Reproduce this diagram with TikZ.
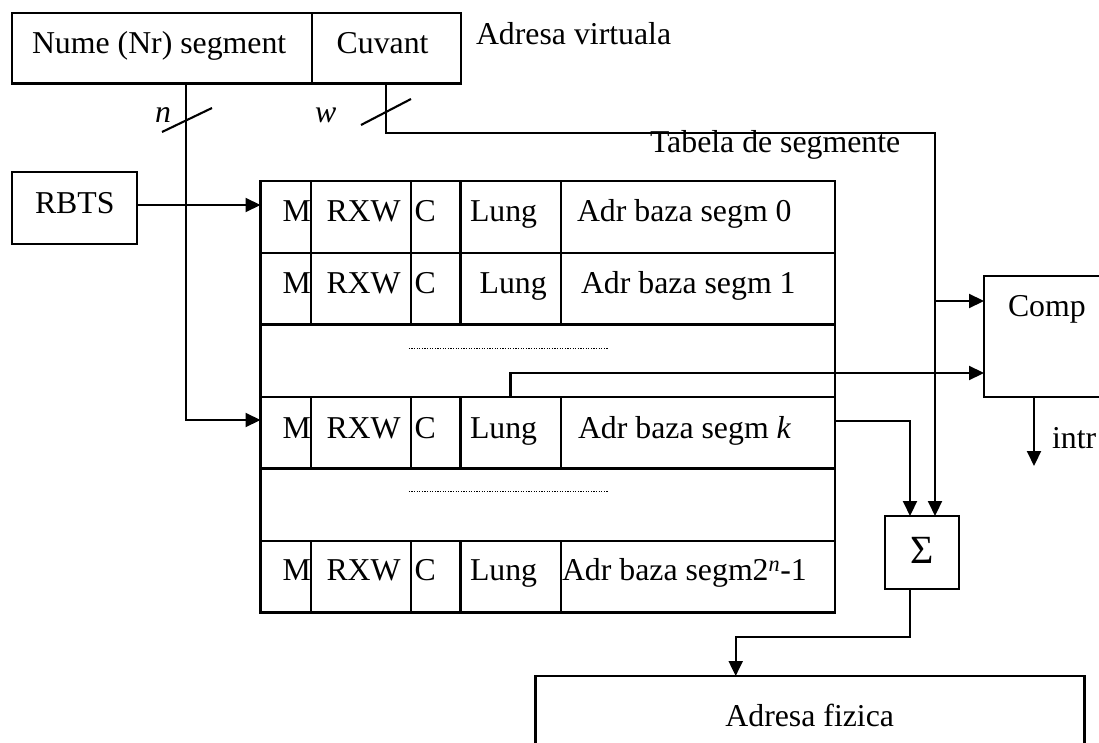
\documentclass[tikz,border=0pt]{standalone}
\usepackage{fontspec}
\setmainfont{Liberation Serif}
\usetikzlibrary{arrows.meta}
\begin{document}
\begin{tikzpicture}[x=1pt,y=-1pt, line width=2.1pt,
  box/.style={draw, line width=2.1pt, inner sep=0pt, outer sep=0pt, anchor=north west},
  txt/.style={inner sep=0pt, outer sep=0pt, anchor=base west, font=\fontsize{31.8}{36}\selectfont},
  arr/.style={-{Triangle[length=15pt,width=14pt]}},
  dotline/.style={line width=1.3pt, dash pattern=on 1.2pt off 1.4pt}]
\useasboundingbox (0,0) rectangle (1099,743);
\clip (0,0) rectangle (1099,743);
% boxes
\node[box, minimum width=299.7pt, minimum height=70.5pt] (seg) at (12,13) {};
\node[box, minimum width=149.3pt, minimum height=70.5pt] (cuv) at (311.7,13) {};
\node[box, minimum width=125pt, minimum height=72pt] (rbts) at (12,172.3) {};
\node[box, minimum width=574.3pt, minimum height=431.5pt] (tab) at (260.5,181) {};
\node[box, minimum width=74.3pt, minimum height=73.3pt] (sig) at (885,516) {};
\node[box, minimum width=140pt, minimum height=120.7pt] (comp) at (984,276) {};
\node[box, minimum width=549pt, minimum height=100pt] (fiz) at (535.5,676) {};
% table internal lines
\foreach \yy in {253,324.5,397,468.5,541} \draw (260.5,\yy) -- (834.8,\yy);
\foreach \xx in {311.2,410.7,460.5,560.8} {
  \draw (\xx,181) -- (\xx,324.5);
  \draw (\xx,397) -- (\xx,468.5);
  \draw (\xx,541) -- (\xx,612.5);
}
\draw[dotline] (408.8,348.3) -- (607.8,348.3);
\draw[dotline] (408.8,491.7) -- (607.8,491.7);
% texts
\node[txt] (tnume) at (32,53.3) {Nume (Nr) segment};
\node[txt] (tcuv) at (336.7,53.3) {Cuvant};
\node[txt] (tav) at (476,45) {Adresa virtuala};
\node[txt] (tn) at (155,123) {\itshape n};
\node[txt] (tw) at (315,123) {\itshape w};
\node[txt] (ttab) at (650,153) {Tabela de segmente};
\node[txt] (trbts) at (35,213.3) {RBTS};
\node[txt] (tcomp) at (1008,316.7) {Comp};
\node[txt] (tintr) at (1052,448) {intr};
\node[txt] (tfiz) at (725.4,726.7) {Adresa fizica};
\node[inner sep=0pt, anchor=base, font=\fontsize{40}{42}\selectfont] (tsig) at (922.5,563) {Σ};
% rows
\node[txt] (m1) at (282.5,221.7) {M};
\node[txt] (x1) at (326.5,221.7) {RXW};
\node[txt] (c1) at (414.6,221.7) {C};
\node[txt] (l1) at (470,221.7) {Lung};
\node[txt] (a1) at (577,221.7) {Adr baza segm 0};
\node[txt] (m2) at (282.5,293.3) {M};
\node[txt] (x2) at (326.5,293.3) {RXW};
\node[txt] (c2) at (414.6,293.3) {C};
\node[txt] (l2) at (479.6,293.3) {Lung};
\node[txt] (a2) at (581,293.3) {Adr baza segm 1};
\node[txt] (m3) at (282.5,438.3) {M};
\node[txt] (x3) at (326.5,438.3) {RXW};
\node[txt] (c3) at (414.6,438.3) {C};
\node[txt] (l3) at (470,438.3) {Lung};
\node[txt] (a3) at (578,438.3) {Adr baza segm \textit{k}};
\node[txt] (m4) at (282.5,580.7) {M};
\node[txt] (x4) at (326.5,580.7) {RXW};
\node[txt] (c4) at (414.6,580.7) {C};
\node[txt] (l4) at (470,580.7) {Lung};
\node[txt] (a4) at (562,580.7) {Adr baza segm2\textsuperscript{\itshape n}-1};
% connectors
\coordinate (nA) at (186,83.5);
\coordinate (nK) at (260.5,420);
\draw[arr] (nA) |- (nK);
\draw (162,132) -- (212,108);
\coordinate (wA) at (386,83.5);
\coordinate (wT) at (935,133);
\coordinate (wS) at (935,516);
\draw[arr] (wA) |- (wT) -- (wS);
\draw (361,125) -- (411,99);
\coordinate (wC) at (935,301);
\coordinate (cA) at (984,301);
\draw[arr] (wC) -- (cA);
\coordinate (r0) at (137,205);
\coordinate (t0) at (260.5,205);
\draw[arr] (r0) -- (t0);
\coordinate (lk) at (510.5,397);
\coordinate (cB) at (984,373);
\draw[arr] (lk) |- (cB);
\coordinate (ak) at (835,420.7);
\coordinate (sk) at (910,516);
\draw[arr] (ak) -| (sk);
\coordinate (so) at (910,589.3);
\coordinate (fz) at (735.7,676);
\draw[arr] (so) -- ++(0,47.4) -| (fz);
\coordinate (co) at (1034,396.7);
\coordinate (ci) at (1034,466);
\draw[arr] (co) -- (ci);
\end{tikzpicture}
\end{document}
